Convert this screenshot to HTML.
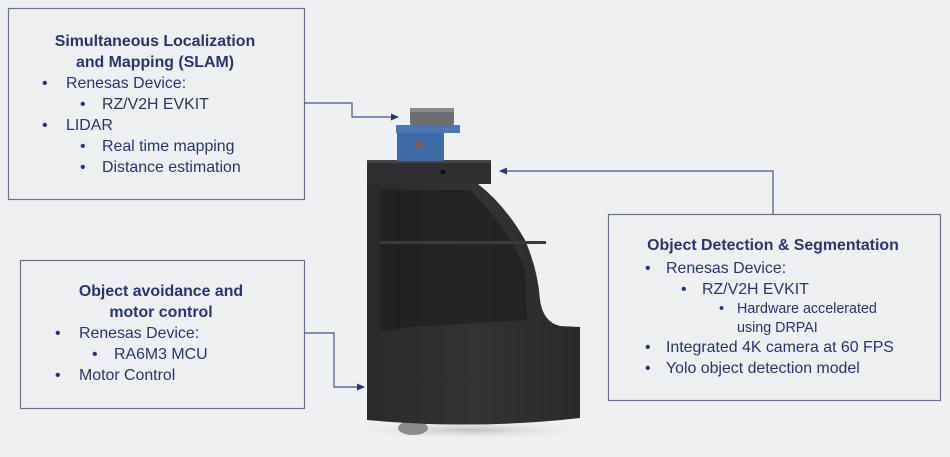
<!DOCTYPE html>
<html><head><meta charset="utf-8"><style>
html,body{margin:0;padding:0;background:#eff0f2;}
svg{display:block}
text{font-family:"Liberation Sans",sans-serif;fill:#2b3373;}
.t{font-weight:bold;font-size:15.9px;text-anchor:middle;}
.b{font-size:15.9px;}
.s{font-size:14.3px;}
</style></head><body>
<svg width="950" height="457" viewBox="0 0 950 457" xmlns="http://www.w3.org/2000/svg">
<defs>
<marker id="a" markerWidth="8" markerHeight="8" refX="7" refY="4" orient="auto" markerUnits="userSpaceOnUse"><path d="M0,0.5 L8,4 L0,7.5z" fill="#2b3373"/></marker>
<linearGradient id="g" x1="0" x2="1"><stop offset="0" stop-color="#2a2a2b"/><stop offset="0.5" stop-color="#333335"/><stop offset="1" stop-color="#2a2a2b"/></linearGradient>
<radialGradient id="sh"><stop offset="0" stop-color="#bfc0c3"/><stop offset="1" stop-color="#eff0f2" stop-opacity="0"/></radialGradient>
</defs>
<rect width="950" height="457" fill="#eff0f2"/>
<rect x="8.5" y="8.5" width="296" height="191" fill="#eeeff1" stroke="#6a7090" stroke-width="1.2"/>
<rect x="20.5" y="260.5" width="284" height="148" fill="#eeeff1" stroke="#6a7090" stroke-width="1.2"/>
<rect x="608.5" y="214.5" width="332" height="186" fill="#eeeff1" stroke="#6a7090" stroke-width="1.2"/>
<g fill="none" stroke="#4a5090" stroke-width="1.2">
<polyline points="304,103 352,103 352,117 398,117" marker-end="url(#a)"/>
<polyline points="773,214 773,171 500,171" marker-end="url(#a)"/>
<polyline points="304,333 334,333 334,387 364,387" marker-end="url(#a)"/>
</g>
<ellipse cx="470" cy="430" rx="130" ry="10" fill="url(#sh)"/>
<ellipse cx="413" cy="428" rx="15" ry="7" fill="#8c8c8e"/>
<path d="M367,184 L478,184 Q505,205 525,240 Q538,270 540,300 Q543,322 560,326 L580,327 L580,418 Q475,430 367,420 Z" fill="url(#g)"/>
<path d="M380,190 L400,190 L400,330 L380,330Z" fill="#222"/>
<path d="M396,190 L470,190 Q510,230 525,270 L527,320 L396,328Z" fill="#1e1e1f" opacity="0.7"/>
<rect x="380" y="241" width="166" height="3" fill="#3a3a3c"/>
<rect x="367" y="160" width="124" height="24" fill="#2f2f31"/>
<rect x="367" y="160" width="124" height="3" fill="#444"/>
<circle cx="443" cy="172" r="2.5" fill="#111"/>
<rect x="397" y="128" width="47" height="33" fill="#3f6aa6"/>
<rect x="396" y="125" width="64" height="8" fill="#4a76b2"/>
<circle cx="418" cy="145" r="3" fill="#b0502a"/>
<rect x="410" y="108" width="44" height="18" rx="3" fill="#6d6d70"/>
<rect x="410" y="108" width="44" height="4" fill="#8a8a8c"/>
<text class="t" x="155" y="46">Simultaneous Localization</text>
<text class="t" x="155" y="67">and Mapping (SLAM)</text>
<text class="b" x="42" y="88">•</text><text class="b" x="66" y="88">Renesas Device:</text>
<text class="b" x="80" y="109">•</text><text class="b" x="102" y="109">RZ/V2H EVKIT</text>
<text class="b" x="42" y="130">•</text><text class="b" x="66" y="130">LIDAR</text>
<text class="b" x="80" y="151">•</text><text class="b" x="102" y="151">Real time mapping</text>
<text class="b" x="80" y="172">•</text><text class="b" x="102" y="172">Distance estimation</text>
<text class="t" x="161" y="296">Object avoidance and</text>
<text class="t" x="161" y="317">motor control</text>
<text class="b" x="55" y="338">•</text><text class="b" x="79" y="338">Renesas Device:</text>
<text class="b" x="92" y="359">•</text><text class="b" x="114" y="359">RA6M3 MCU</text>
<text class="b" x="55" y="380">•</text><text class="b" x="79" y="380">Motor Control</text>
<text class="t" x="773" y="250">Object Detection &amp; Segmentation</text>
<text class="b" x="645" y="273">•</text><text class="b" x="666" y="273">Renesas Device:</text>
<text class="b" x="681" y="294">•</text><text class="b" x="702" y="294">RZ/V2H EVKIT</text>
<text class="s" x="719" y="313">•</text><text class="s" x="737" y="313">Hardware accelerated</text>
<text class="s" x="737" y="332">using DRPAI</text>
<text class="b" x="645" y="352">•</text><text class="b" x="666" y="352">Integrated 4K camera at 60 FPS</text>
<text class="b" x="645" y="373">•</text><text class="b" x="666" y="373">Yolo object detection model</text>
</svg>
</body></html>
